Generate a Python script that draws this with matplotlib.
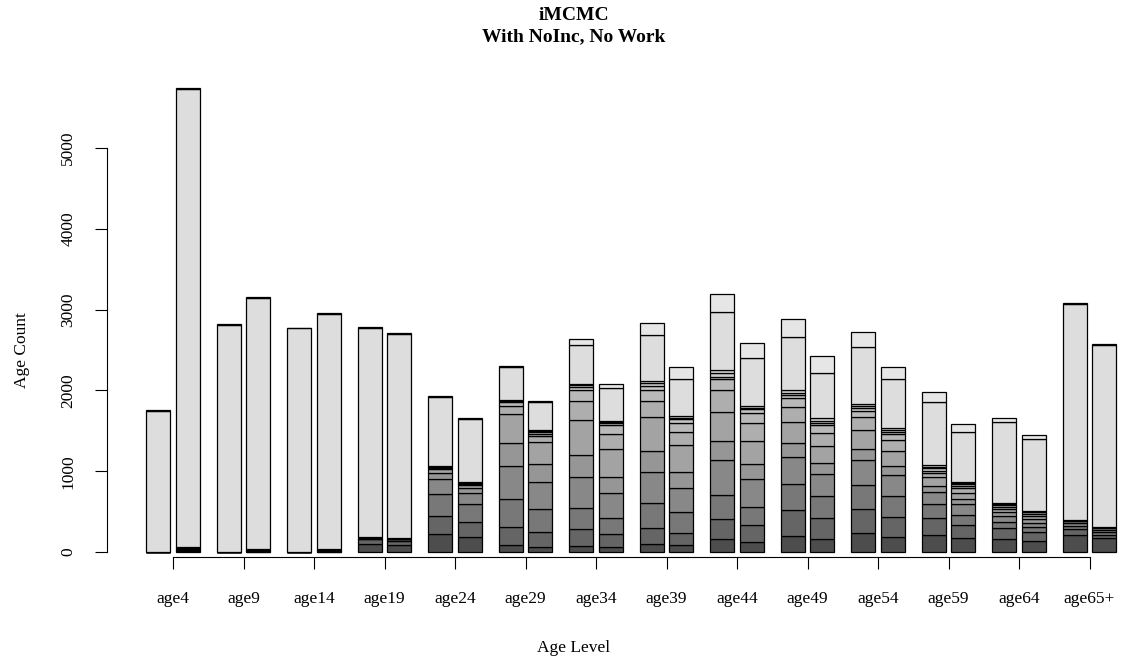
import numpy as np
import matplotlib
matplotlib.use('Agg')
import matplotlib.pyplot as plt

plt.rcParams['font.family'] = ['Liberation Serif', 'DejaVu Serif']

# age groups on the x axis
ages = ['age4', 'age9', 'age14', 'age19', 'age24', 'age29', 'age34',
        'age39', 'age44', 'age49', 'age54', 'age59', 'age64', 'age65+']

# each group: two stacked bars, 13 segments each (bottom -> top)
age4 = [[0, 0, 0, 0, 0, 0, 0, 0, 0, 0, 0, 1750, 7],
        [10, 8, 6, 5, 5, 4, 4, 4, 4, 4, 3, 5679, 8]]
age9 = [[0, 0, 0, 0, 0, 0, 0, 0, 0, 0, 0, 2812, 6],
        [6, 5, 4, 4, 4, 3, 3, 3, 3, 3, 2, 3104, 6]]
age14 = [[0, 0, 0, 0, 0, 0, 0, 0, 0, 0, 0, 2772, 6],
         [6, 5, 4, 4, 4, 3, 3, 3, 3, 3, 2, 2909, 6]]
age19 = [[99, 62, 4, 3, 3, 3, 2, 2, 2, 2, 2, 2591, 8],
         [90, 41, 26, 3, 3, 3, 2, 2, 2, 2, 2, 2524, 8]]
age24 = [[219, 230, 265, 186, 74, 49, 15, 8, 6, 5, 5, 862, 10],
         [190, 185, 222, 130, 65, 34, 16, 8, 6, 5, 5, 786, 10]]
age29 = [[83, 222, 347, 412, 289, 355, 99, 53, 14, 6, 5, 401, 20],
         [66, 185, 277, 334, 223, 280, 75, 24, 21, 14, 7, 346, 21]]
age34 = [[70, 211, 260, 383, 273, 440, 228, 136, 45, 25, 8, 487, 70],
         [58, 161, 206, 301, 206, 347, 177, 120, 24, 14, 7, 405, 57]]
age39 = [[99, 194, 310, 383, 260, 421, 206, 132, 49, 34, 28, 566, 156],
         [83, 156, 260, 289, 198, 342, 153, 112, 49, 20, 21, 458, 145]]
age44 = [[166, 247, 289, 433, 235, 363, 268, 140, 25, 54, 37, 713, 219],
         [127, 207, 227, 339, 189, 289, 215, 123, 50, 20, 21, 598, 186]]
age49 = [[202, 314, 326, 330, 173, 264, 189, 104, 41, 29, 33, 652, 231],
         [161, 256, 280, 265, 143, 211, 161, 91, 29, 28, 30, 557, 214]]
age54 = [[239, 293, 297, 310, 136, 231, 161, 78, 41, 21, 21, 713, 178],
         [190, 247, 260, 252, 115, 186, 136, 74, 29, 21, 21, 606, 156]]
age59 = [[206, 211, 173, 149, 78, 107, 57, 25, 30, 20, 21, 783, 124],
         [169, 161, 128, 132, 62, 82, 54, 33, 20, 14, 7, 623, 103]]
age64 = [[157, 136, 82, 71, 49, 37, 29, 21, 11, 6, 4, 1002, 57],
         [136, 115, 58, 54, 49, 34, 24, 21, 10, 6, 4, 891, 46]]
age65p = [[210, 71, 45, 29, 25, 8, 3, 2, 1, 1, 1, 2673, 16],
          [169, 41, 33, 29, 21, 10, 4, 3, 1, 1, 1, 2249, 8]]

groups = [age4, age9, age14, age19, age24, age29, age34,
          age39, age44, age49, age54, age59, age64, age65p]

# R's gray.colors(13)
n = 13
lev = np.linspace(0.3 ** 2.2, 0.9 ** 2.2, n) ** (1 / 2.2)
cols = [(v, v, v) for v in lev]

W, H = 1121, 660
fig = plt.figure(figsize=(W / 100, H / 100), dpi=100)

# axes in pixel terms
L, R, B, T = 107, 1117, 557, 80
px_per_unit = 80.8 / 1000
y0_px = 552
ax = fig.add_axes([L / W, 1 - B / H, (R - L) / W, (B - T) / H])
ax.set_xlim(0, (R - L) / 24)
ax.set_ylim(-(B - y0_px) / px_per_unit, (y0_px - T) / px_per_unit)

pitch = 70.5 / 24
tick_pos = [(173 - L) / 24 + k * pitch for k in range(len(ages))]

for k, grp in enumerate(groups):
    for j, segs in enumerate(grp):
        left = tick_pos[k] - 1.12 + j * 1.24
        bottoms = np.concatenate([[0], np.cumsum(segs)[:-1]])
        ax.bar([left] * n, segs, width=1.0, bottom=bottoms, align='edge',
               color=cols, edgecolor='black', linewidth=0.9, clip_on=False)

for s in ['top', 'right']:
    ax.spines[s].set_visible(False)
ax.spines['left'].set_bounds(0, 5000)
ax.spines['bottom'].set_bounds(tick_pos[0], tick_pos[-1])
for s in ['left', 'bottom']:
    ax.spines[s].set_linewidth(0.8)

ax.set_yticks(range(0, 5001, 1000))
ax.set_yticklabels([str(v) for v in range(0, 5001, 1000)], rotation=90,
                   va='center', fontsize=12.5)
ax.set_xticks(tick_pos)
ax.set_xticklabels(ages, fontsize=12.5)
ax.tick_params(length=8.6, width=0.8)
ax.tick_params(axis='x', pad=16)
ax.tick_params(axis='y', pad=13.5)

fig.text(574 / W, 1 - 648 / H, 'Age Level', ha='center', va='center', fontsize=12.5)
fig.text(22 / W, 1 - 350 / H, 'Age Count', ha='center', va='center',
         rotation=90, fontsize=12.5)
fig.text(574 / W, 1 - 15 / H, 'iMCMC', ha='center', va='center',
         fontsize=14, fontweight='bold')
fig.text(574 / W, 1 - 37 / H, 'With NoInc, No Work', ha='center', va='center',
         fontsize=14, fontweight='bold')

fig.savefig('out.png', dpi=100)
